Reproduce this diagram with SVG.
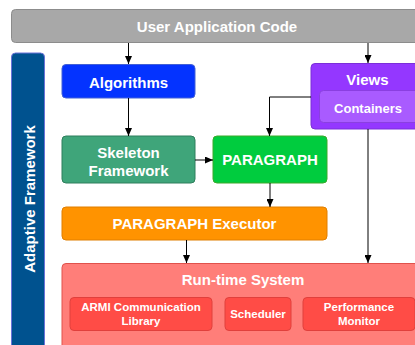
<svg xmlns="http://www.w3.org/2000/svg" width="415" height="345" viewBox="0 0 415 345">
<defs>
<marker id="ah" markerWidth="8" markerHeight="7" refX="8" refY="3.5" orient="auto" markerUnits="userSpaceOnUse">
<path d="M0,0 L8,3.5 L0,7 z" fill="#000"/>
</marker>
<style>
text{font-family:"Liberation Sans",Arial,sans-serif;font-weight:bold;fill:#fff;text-anchor:middle}
.t15{font-size:15px}
.t13{font-size:13px}
.t12{font-size:11.5px}
.c{fill:none;stroke:#000;stroke-width:1}
</style>
</defs>
<rect width="415" height="345" fill="#fff"/>
<g id="user-app">
<rect x="11.5" y="9.5" width="420" height="33" rx="4" fill="#a8a8a8" stroke="#8c8c8c"/>
<text class="t15" x="217" y="32">User Application Code</text>
</g>
<g id="adaptive-framework">
<rect x="11.5" y="53" width="33" height="300" rx="4" fill="#00528f" stroke="#6b72d8"/>
<text class="t15" transform="translate(34.5,199) rotate(-90)">Adaptive Framework</text>
</g>
<g id="algorithms">
<rect x="62" y="64.5" width="133" height="33.5" rx="4" fill="#0433ff" stroke="#4260d6"/>
<text class="t15" x="128.5" y="88">Algorithms</text>
</g>
<g id="views">
<rect x="311" y="63.5" width="120" height="65.5" rx="4" fill="#9437ff" stroke="#7b2fd8"/>
<text class="t15" x="367.5" y="84.5">Views</text>
<g id="containers">
<rect x="319.5" y="90.5" width="110" height="32" rx="4" fill="#a95bff" stroke="#8a3fe0"/>
<text class="t13" x="368" y="112.5">Containers</text>
</g>
</g>
<g id="skeleton">
<rect x="62" y="136" width="133" height="47" rx="4" fill="#3fa57a" stroke="#2f7e5c"/>
<text class="t15" x="128.5" y="157.5">Skeleton</text>
<text class="t15" x="128.5" y="175.5">Framework</text>
</g>
<g id="paragraph">
<rect x="213" y="136" width="114" height="47" rx="4" fill="#00cc3e" stroke="#3aaa2a"/>
<text class="t15" x="270" y="165">PARAGRAPH</text>
</g>
<g id="executor">
<rect x="62" y="207" width="265" height="33" rx="4" fill="#ff9300" stroke="#e07f00"/>
<text class="t15" x="194.5" y="229">PARAGRAPH Executor</text>
</g>
<g id="runtime">
<rect x="62" y="263.5" width="370" height="95" rx="4" fill="#ff7e79" stroke="#e0524c"/>
<text class="t15" x="243" y="284.5">Run-time System</text>
<g id="armi">
<rect x="70" y="297.5" width="142" height="33" rx="4" fill="#ff4c46" stroke="#e0403c"/>
<text class="t12" x="141" y="311">ARMI Communication</text>
<text class="t12" x="141" y="325">Library</text>
</g>
<g id="scheduler">
<rect x="225" y="297.5" width="66" height="33" rx="4" fill="#ff4c46" stroke="#e0403c"/>
<text class="t12" x="258" y="318">Scheduler</text>
</g>
<g id="perf">
<rect x="303" y="297.5" width="112" height="33" rx="4" fill="#ff4c46" stroke="#e0403c"/>
<text class="t12" x="359" y="311">Performance</text>
<text class="t12" x="359" y="325">Monitor</text>
</g>
</g>
<g id="connectors">
<path class="c" d="M128.5,43 V64" marker-end="url(#ah)"/>
<path class="c" d="M368,43 V63" marker-end="url(#ah)"/>
<path class="c" d="M128.5,98 V136" marker-end="url(#ah)"/>
<path class="c" d="M311,97 H269.5 V136" marker-end="url(#ah)"/>
<path class="c" d="M195,160 H213" marker-end="url(#ah)"/>
<path class="c" d="M270,183 V207" marker-end="url(#ah)"/>
<path class="c" d="M186.5,240 V263" marker-end="url(#ah)"/>
<path class="c" d="M368,129 V263" marker-end="url(#ah)"/>
</g>
</svg>
